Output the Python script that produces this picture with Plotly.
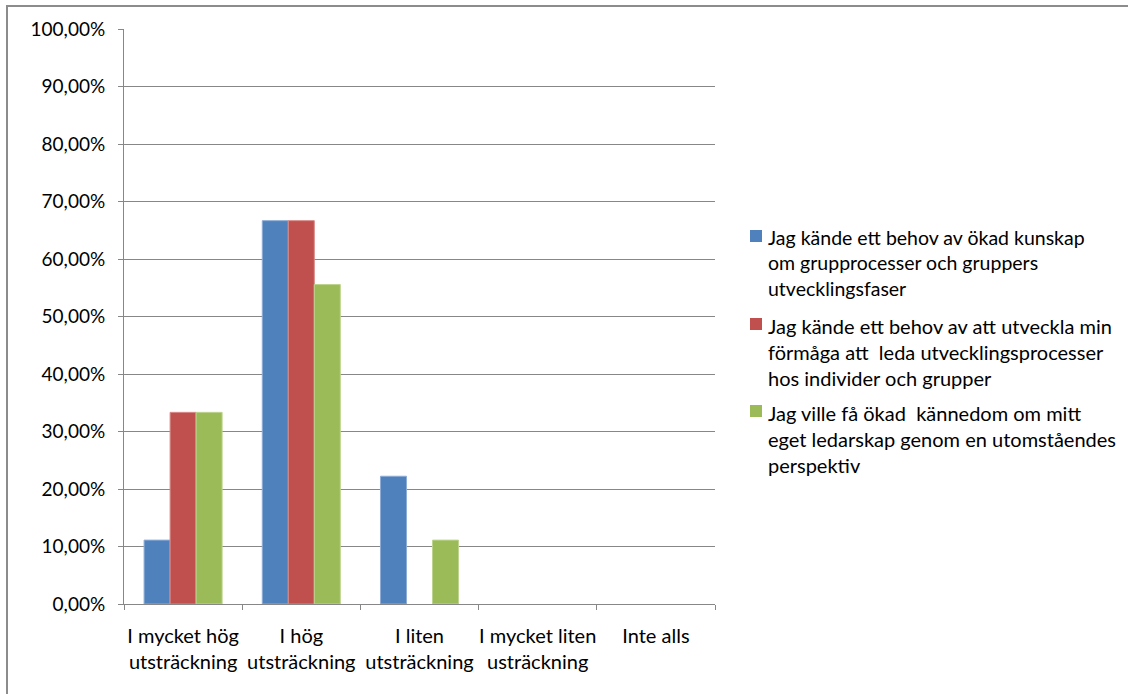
import plotly.graph_objects as go

categories = [
    "I mycket hög<br>utsträckning",
    "I hög<br>utsträckning",
    "I liten<br>utsträckning",
    "I mycket liten<br>usträckning",
    "Inte alls",
]

series_names = [
    "Jag kände ett behov av ökad kunskap<br>om grupprocesser och gruppers<br>utvecklingsfaser",
    "Jag kände ett behov av att utveckla min<br>förmåga att  leda utvecklingsprocesser<br>hos individer och grupper",
    "Jag ville få ökad  kännedom om mitt<br>eget ledarskap genom en utomståendes<br>perspektiv",
]

kunskap = [0.1111, 0.6667, 0.2222, 0.0, 0.0]
utveckla = [0.3333, 0.6667, 0.0, 0.0, 0.0]
ledarskap = [0.3333, 0.5556, 0.1111, 0.0, 0.0]

fill_colors = ["#4F81BD", "#C0504D", "#9BBB59"]
edge_colors = ["#8EADD6", "#D98A88", "#BDD48E"]

FONT = "Lato, 'Open Sans', sans-serif"
GRID = "#878787"

# plot area geometry (pixels) used to place the hand-built legend
L, R, T, B = 124, 715, 29, 604
W, H = R - L, B - T


def px_x(px):
    return (px - L) / W


def px_y(py):
    return (B - py) / H


fig = go.Figure()
for i, (name, vals) in enumerate(zip(series_names, [kunskap, utveckla, ledarskap])):
    fig.add_trace(go.Bar(
        x=categories,
        y=vals,
        name=name.replace("<br>", " "),
        showlegend=False,
        marker=dict(
            color=fill_colors[i],
            line=dict(color=edge_colors[i], width=[1 if v > 0 else 0 for v in vals]),
        ),
    ))

# legend: square swatch + wrapped label per series
shapes = []
annotations = []
item_top = [230, 318, 405]
for i, name in enumerate(series_names):
    top = item_top[i]
    shapes.append(dict(
        type="rect", xref="paper", yref="paper",
        x0=px_x(750), x1=px_x(762), y0=px_y(top + 12), y1=px_y(top),
        fillcolor=fill_colors[i], line=dict(width=0),
    ))
    annotations.append(dict(
        xref="paper", yref="paper",
        x=px_x(766), y=px_y(top - 6),
        xanchor="left", yanchor="top", align="left",
        text=name, showarrow=False,
        font=dict(family=FONT, size=19.5 if i == 0 else 20, color="#000000"),
    ))

# outer chart frame
shapes.append(dict(
    type="rect", xref="paper", yref="paper",
    x0=px_x(7), x1=2.0, y0=-2.0, y1=px_y(6),
    line=dict(color="#8C8C8C", width=2),
    fillcolor="rgba(0,0,0,0)", layer="below",
))

fig.update_layout(
    width=1128,
    height=694,
    margin=dict(l=L, r=1128 - R, t=T, b=694 - B, autoexpand=False),
    paper_bgcolor="white",
    plot_bgcolor="white",
    barmode="group",
    bargap=0.34,
    bargroupgap=0,
    separators=", ",
    font=dict(family=FONT, size=19, color="#000000"),
    showlegend=False,
    shapes=shapes,
    annotations=annotations,
)

fig.update_yaxes(
    range=[0, 1],
    tickvals=[i / 10 for i in range(11)],
    tickformat=".2%",
    showgrid=True,
    gridcolor=GRID,
    gridwidth=1,
    showline=True,
    linecolor=GRID,
    linewidth=1,
    ticks="outside",
    ticklen=5,
    tickcolor=GRID,
    ticklabelstandoff=9,
    zeroline=False,
    automargin=False,
    tickfont=dict(family=FONT, size=19, color="#000000"),
)

fig.update_xaxes(
    showline=True,
    linecolor=GRID,
    linewidth=1,
    ticks="outside",
    ticklen=5,
    tickcolor=GRID,
    tickson="boundaries",
    tickangle=0,
    ticklabelstandoff=14,
    automargin=False,
    tickfont=dict(family=FONT, size=20, color="#000000"),
)

fig.write_html("out.html")
